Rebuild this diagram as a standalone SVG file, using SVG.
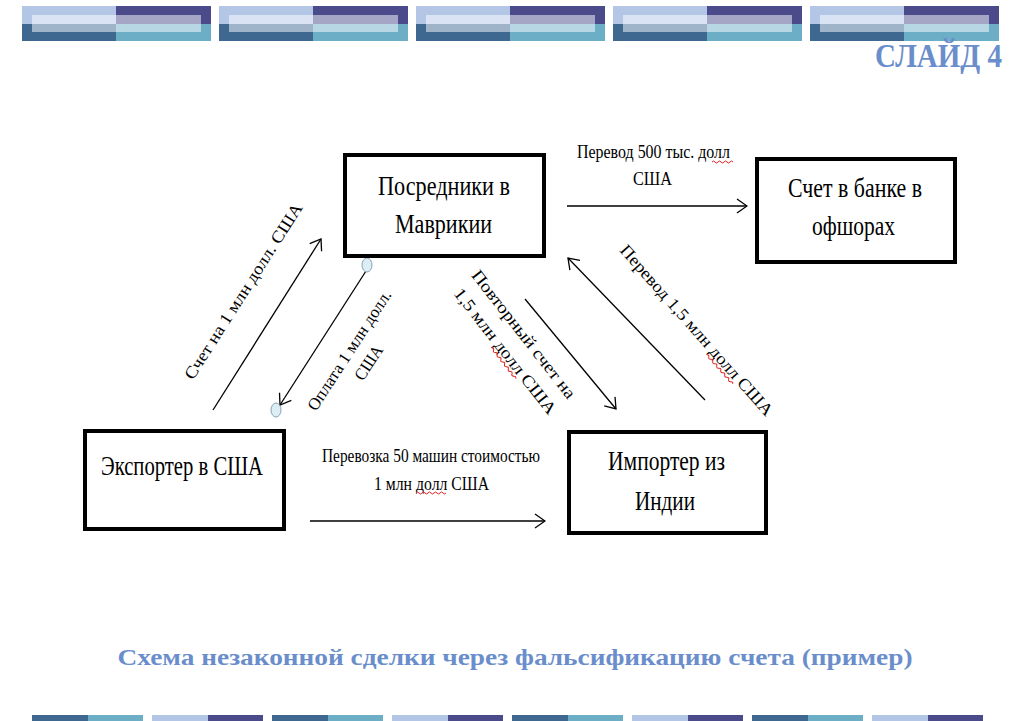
<svg xmlns="http://www.w3.org/2000/svg" width="1024" height="721" viewBox="0 0 1024 721">
<defs>
<style>
.box{fill:#fff;stroke:#000;stroke-width:4}
.nt{font-family:"Liberation Serif","Times New Roman",serif;font-size:28px;fill:#000;text-anchor:middle}
.lt{font-family:"Liberation Serif","Times New Roman",serif;font-size:18px;fill:#000;text-anchor:middle}
.rt{font-family:"Liberation Serif","Times New Roman",serif;font-size:17px;fill:#000;text-anchor:middle}
.ln{stroke:#000;stroke-width:1.3;fill:none}
.wv{stroke:#e02020;stroke-width:1;fill:none}
.hd{font-family:"Liberation Serif","Times New Roman",serif;font-weight:bold;fill:#6a8ecb}
.c1{fill:#b3c6e6}.c2{fill:#4b4a8a}.c3{fill:#3e6890}.c4{fill:#6caec6}
.inner{fill:#fff;opacity:0.5}
.el{fill:#dbeef6;stroke:#8aa0b0;stroke-width:1}
</style>
<marker id="ah" markerWidth="12" markerHeight="16" refX="11" refY="8" orient="auto" markerUnits="userSpaceOnUse">
<path d="M1,1 L11,8 L1,15" fill="none" stroke="#000" stroke-width="1.3"/>
</marker>
<g id="hblock">
<rect class="c1" x="0" y="6" width="94" height="18"/>
<rect class="c2" x="94" y="6" width="95" height="18"/>
<rect class="c3" x="0" y="24" width="94" height="17"/>
<rect class="c4" x="94" y="24" width="95" height="17"/>
<rect class="inner" x="10" y="15" width="169" height="17"/>
</g>
<g id="fA"><rect class="c3" x="0" y="715" width="56" height="6"/><rect class="c4" x="56" y="715" width="55" height="6"/></g>
<g id="fB"><rect class="c1" x="0" y="715" width="56" height="6"/><rect class="c2" x="56" y="715" width="55" height="6"/></g>
</defs>
<rect width="1024" height="721" fill="#fff"/>
<g id="header">
<use href="#hblock" x="22"/>
<use href="#hblock" x="219"/>
<use href="#hblock" x="416"/>
<use href="#hblock" x="613"/>
<use href="#hblock" x="810"/>
</g>
<g id="footer">
<use href="#fA" x="32"/><use href="#fB" x="152"/><use href="#fA" x="272"/><use href="#fB" x="392"/>
<use href="#fA" x="512"/><use href="#fB" x="632"/><use href="#fA" x="752"/><use href="#fB" x="872"/>
</g>
<text class="hd" x="1002" y="67" font-size="33" text-anchor="end" textLength="127" lengthAdjust="spacingAndGlyphs">СЛАЙД 4</text>

<g id="connectors">
<line class="ln" x1="567" y1="206" x2="747" y2="206" marker-end="url(#ah)"/>
<line class="ln" x1="310" y1="521" x2="545" y2="521" marker-end="url(#ah)"/>
<line class="ln" x1="213" y1="410" x2="321" y2="239" marker-end="url(#ah)"/>
<line class="ln" x1="366" y1="271" x2="280" y2="405" marker-end="url(#ah)"/>
<ellipse class="el" cx="367" cy="265" rx="5" ry="7"/>
<ellipse class="el" cx="276" cy="410" rx="5" ry="7"/>
<line class="ln" x1="525" y1="299" x2="616" y2="409" marker-end="url(#ah)"/>
<line class="ln" x1="705" y1="400" x2="568" y2="258" marker-end="url(#ah)"/>

<text class="lt" x="653.5" y="158" font-size="19" textLength="153" lengthAdjust="spacingAndGlyphs">Перевод 500 тыс. долл</text>
<text class="lt" x="652.5" y="185" font-size="19" textLength="39" lengthAdjust="spacingAndGlyphs">США</text>
<path class="wv" d="M712,162 q1.5,-2 3,0 t3,0 t3,0 t3,0 t3,0 t3,0 t3,0"/>

<text class="lt" x="431" y="462" textLength="218" lengthAdjust="spacingAndGlyphs">Перевозка 50 машин стоимостью</text>
<text class="lt" x="431.5" y="490" textLength="115" lengthAdjust="spacingAndGlyphs">1 млн долл США</text>
<path class="wv" d="M416,493 q1.5,-2 3,0 t3,0 t3,0 t3,0 t3,0 t3,0 t3,0 t3,0 t3,0 t3,0"/>

<g transform="translate(243,291) rotate(-57.5)">
<text class="rt" x="0" y="6" textLength="205" lengthAdjust="spacingAndGlyphs">Счет на 1 млн долл. США</text>
</g>
<g transform="translate(349,350) rotate(-57)">
<text class="rt" x="0" y="6" textLength="140" lengthAdjust="spacingAndGlyphs">Оплата 1 млн долл.</text>
<text class="rt" x="0" y="29" textLength="38" lengthAdjust="spacingAndGlyphs">США</text>
</g>
<g transform="translate(524,334) rotate(52)">
<text class="rt" x="0" y="6" textLength="158" lengthAdjust="spacingAndGlyphs">Повторный счет на</text>
<text class="rt" x="2" y="31" textLength="155" lengthAdjust="spacingAndGlyphs">1,5 млн долл США</text>
<path class="wv" d="M-9,34 q1.5,-2 3,0 t3,0 t3,0 t3,0 t3,0 t3,0 t3,0 t3,0 t3,0 t3,0 t3,0 t3,0 t3,0"/>
</g>
<g transform="translate(697,330) rotate(48.5)">
<text class="rt" x="0" y="6" textLength="222" lengthAdjust="spacingAndGlyphs">Перевод 1,5 млн долл США</text>
<path class="wv" d="M25,9 q1.5,-2 3,0 t3,0 t3,0 t3,0 t3,0 t3,0 t3,0 t3,0 t3,0 t3,0 t3,0 t3,0 t3,0"/>
</g>
</g>

<g id="n-posredniki">
<rect class="box" x="345" y="155" width="199" height="101"/>
<text class="nt" x="444" y="195" textLength="132" lengthAdjust="spacingAndGlyphs">Посредники в</text>
<text class="nt" x="443.5" y="233" textLength="97" lengthAdjust="spacingAndGlyphs">Маврикии</text>
</g>
<g id="n-bank">
<rect class="box" x="757" y="159" width="198" height="103"/>
<text class="nt" x="855" y="197" textLength="134" lengthAdjust="spacingAndGlyphs">Счет в банке в</text>
<text class="nt" x="853.5" y="235" textLength="83" lengthAdjust="spacingAndGlyphs">офшорах</text>
</g>
<g id="n-exporter">
<rect class="box" x="85" y="431" width="199" height="98"/>
<text class="nt" x="182" y="475" textLength="162" lengthAdjust="spacingAndGlyphs">Экспортер в США</text>
</g>
<g id="n-importer">
<rect class="box" x="569" y="432" width="197" height="101"/>
<text class="nt" x="666.5" y="470" textLength="117" lengthAdjust="spacingAndGlyphs">Импортер из</text>
<text class="nt" x="665" y="510" textLength="60" lengthAdjust="spacingAndGlyphs">Индии</text>
</g>

<text class="hd" x="515" y="665" font-size="24" text-anchor="middle" fill="#5b80c4" textLength="795" lengthAdjust="spacingAndGlyphs">Схема незаконной сделки через фальсификацию счета (пример)</text>
</svg>
